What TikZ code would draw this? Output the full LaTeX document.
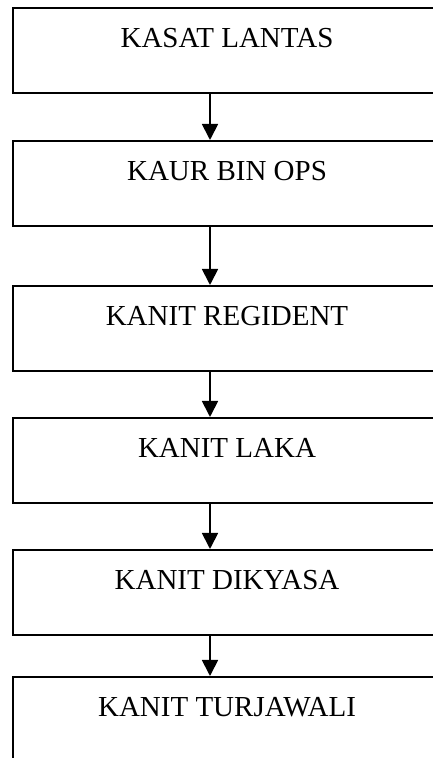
\documentclass[tikz,border=0pt]{standalone}
\usepackage{fontspec}
\setmainfont{Liberation Serif}
\usetikzlibrary{arrows.meta}

\tikzset{
    unitbox/.style={draw,rectangle,line width=1.8pt,anchor=north,inner sep=0pt,
        minimum width=428pt,text height=40pt,text depth=45pt,
        font=\fontsize{29}{34}\selectfont},
    down/.style={line width=1.8pt,-{Triangle[width=16pt,length=16pt]}}
}

\begin{document}
\begin{tikzpicture}[x=1pt,y=1pt]
\useasboundingbox (0,0) rectangle (433,758);
\foreach \i/\y/\t in {1/751/KASAT LANTAS,2/618/KAUR BIN OPS,3/473/KANIT REGIDENT,
    4/341/KANIT LAKA,5/209/KANIT DIKYASA,6/82/KANIT TURJAWALI} {
    \node[unitbox] (b\i) at (227,\y) {\t};
}
\foreach \i/\j in {1/2,2/3,3/4,4/5,5/6} {
    \draw[down] ([xshift=-17pt]b\i.south) -- ([xshift=-17pt]b\j.north);
}
\end{tikzpicture}
\end{document}
